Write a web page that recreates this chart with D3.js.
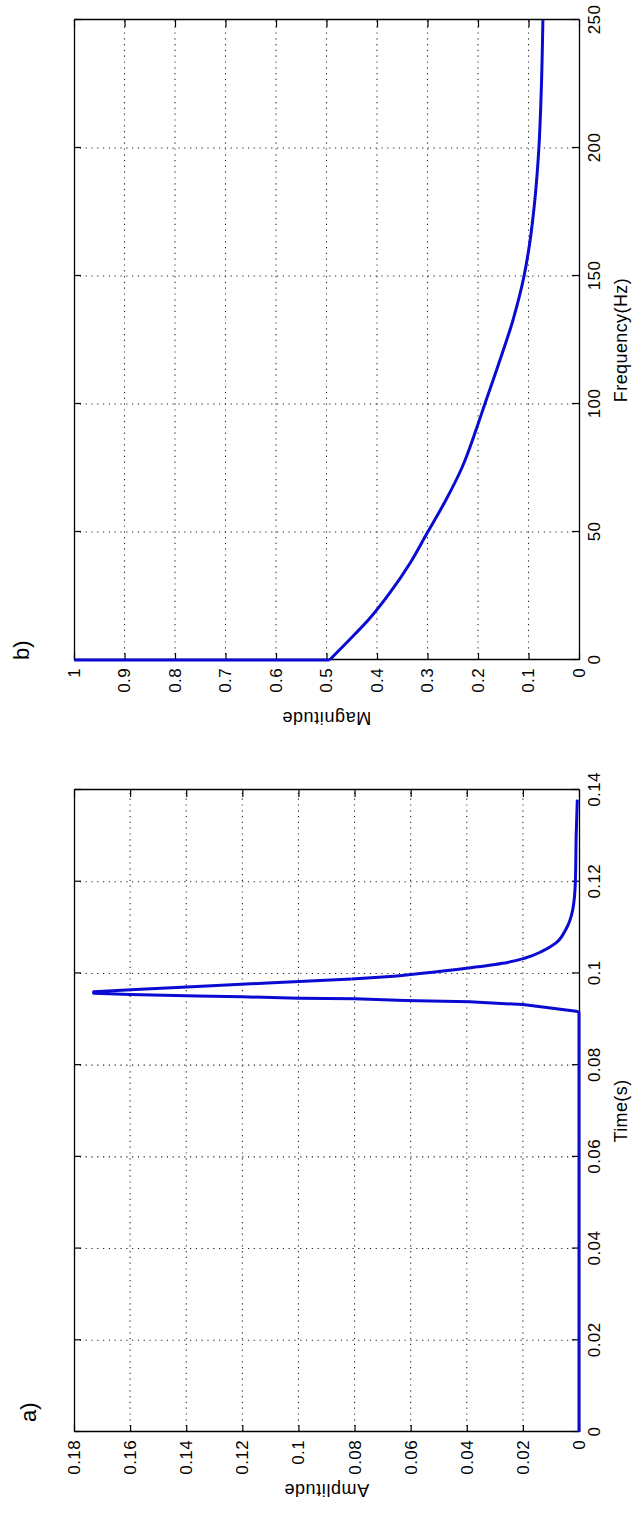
<!DOCTYPE html>
<html>
<head>
<meta charset="utf-8">
<script src="https://cdn.jsdelivr.net/npm/d3@7/dist/d3.min.js"></script>
<style>
  html, body { margin: 0; padding: 0; background: #fff; }
  svg { display: block; }
  text { font-family: "Liberation Sans", Arial, Helvetica, sans-serif; fill: #000; }
</style>
</head>
<body>
<svg id="fig" width="633" height="1515"></svg>
<script>
// ---- panel a) : impulse response in time ----
const timeTicks = [0, 0.02, 0.04, 0.06, 0.08, 0.1, 0.12, 0.14];
const timeTickLabels = ["0", "0.02", "0.04", "0.06", "0.08", "0.1", "0.12", "0.14"];
const amplitudeTicks = [0, 0.02, 0.04, 0.06, 0.08, 0.1, 0.12, 0.14, 0.16, 0.18];
const amplitudeTickLabels = ["0", "0.02", "0.04", "0.06", "0.08", "0.1", "0.12", "0.14", "0.16", "0.18"];
const timeValues = [0, 0.0915, 0.09176, 0.0932, 0.0938, 0.0941, 0.0945, 0.0946, 0.0949, 0.0951, 0.0954, 0.0957,
  0.0960, 0.0965, 0.0971, 0.0979, 0.0988, 0.0994, 0.1004, 0.1013, 0.1024, 0.1033, 0.1048, 0.1066,
  0.1096, 0.1140, 0.1199, 0.1302, 0.1379];
const amplitudeValues = [0, 0, 0.001, 0.020, 0.039, 0.062, 0.080, 0.100, 0.120, 0.136, 0.160, 0.173,
  0.173, 0.158, 0.138, 0.111, 0.081, 0.066, 0.050, 0.038, 0.0255, 0.0194, 0.0132, 0.0083,
  0.0047, 0.0022, 0.0013, 0.0010, 0.0006];

// ---- panel b) : magnitude spectrum ----
const freqTicks = [0, 50, 100, 150, 200, 250];
const freqTickLabels = ["0", "50", "100", "150", "200", "250"];
const magnitudeTicks = [0, 0.1, 0.2, 0.3, 0.4, 0.5, 0.6, 0.7, 0.8, 0.9, 1];
const magnitudeTickLabels = ["0", "0.1", "0.2", "0.3", "0.4", "0.5", "0.6", "0.7", "0.8", "0.9", "1"];
const freqValues = [0, 0, 7.6, 16, 26.2, 38, 49.5, 61.7, 75.2, 90.4, 99.7, 114, 132.6, 149.8, 163,
  181.6, 199.8, 223.8, 250];
const magnitudeValues = [1, 0.494, 0.456, 0.4155, 0.3747, 0.334, 0.301, 0.2657, 0.2316, 0.203, 0.187,
  0.162, 0.131, 0.109, 0.0975, 0.0865, 0.0795, 0.0745, 0.0715];

const W = 1515, H = 633;              // landscape figure, turned a quarter turn on the page
const lineColor = "#0a0ad2";

const svg = d3.select("#fig");
svg.append("rect").attr("width", 633).attr("height", 1515).attr("fill", "#fff");
const fig = svg.append("g").attr("transform", `translate(0,${W}) rotate(-90)`);

function panel(opts) {
  const { x0, x1, y0, y1 } = opts;
  const x = d3.scaleLinear().domain(opts.xDomain).range([x0, x1]);
  const y = d3.scaleLinear().domain(opts.yDomain).range([y1, y0]);
  const g = fig.append("g");

  // dotted grid
  const grid = g.append("g").attr("stroke", "#222").attr("stroke-width", 1.1)
    .attr("stroke-dasharray", "1.2,4.6");
  grid.selectAll("line.gx").data(opts.xTicks.slice(1, -1)).join("line")
    .attr("x1", d => x(d)).attr("x2", d => x(d)).attr("y1", y0).attr("y2", y1);
  grid.selectAll("line.gy").data(opts.yTicks.slice(1, -1)).join("line")
    .attr("y1", d => y(d)).attr("y2", d => y(d)).attr("x1", x0).attr("x2", x1);

  // box with inward ticks on all four sides
  const style = sel => {
    sel.selectAll(".domain").attr("stroke", "#000").attr("stroke-width", 1.3);
    sel.selectAll(".tick line").attr("stroke", "#000").attr("stroke-width", 1.2);
    sel.selectAll("text").attr("font-size", 17).attr("letter-spacing", 0.4)
      .attr("font-family", '"Liberation Sans", Arial, sans-serif').attr("fill", "#000");
  };
  g.append("g").attr("transform", `translate(0,${y1})`)
    .call(d3.axisBottom(x).tickValues(opts.xTicks).tickFormat((d, i) => opts.xLabels[i])
      .tickSizeInner(-7).tickSizeOuter(0).tickPadding(9)).call(style);
  g.append("g").attr("transform", `translate(0,${y0})`)
    .call(d3.axisTop(x).tickValues(opts.xTicks).tickFormat("")
      .tickSizeInner(-7).tickSizeOuter(0)).call(style);
  g.append("g").attr("transform", `translate(${x0},0)`)
    .call(d3.axisLeft(y).tickValues(opts.yTicks).tickFormat((d, i) => opts.yLabels[i])
      .tickSizeInner(-7).tickSizeOuter(0).tickPadding(8)).call(style);
  g.append("g").attr("transform", `translate(${x1},0)`)
    .call(d3.axisRight(y).tickValues(opts.yTicks).tickFormat("")
      .tickSizeInner(-7).tickSizeOuter(0)).call(style);
  g.selectAll(".domain").attr("fill", "none");

  // data trace: straight pieces first, then the smooth part
  const pts = opts.xs.map((v, i) => [v, opts.ys[i]]);
  const split = opts.smoothFrom == null ? pts.length : opts.smoothFrom;
  const straight = d3.line().x(d => x(d[0])).y(d => y(d[1]));
  const smooth = d3.line().curve(d3.curveMonotoneX).x(d => x(d[0])).y(d => y(d[1]));
  g.append("path").datum(pts.slice(0, split + 1))
    .attr("fill", "none").attr("stroke", lineColor).attr("stroke-width", 3)
    .attr("stroke-linejoin", "round").attr("d", straight);
  if (split < pts.length - 1) {
    g.append("path").datum(pts.slice(split))
      .attr("fill", "none").attr("stroke", lineColor).attr("stroke-width", 3)
      .attr("stroke-linejoin", "round").attr("d", smooth);
  }

  // axis titles
  g.append("text").attr("x", (x0 + x1) / 2).attr("y", 627)
    .attr("text-anchor", "middle").attr("font-size", 18).attr("letter-spacing", 0.4)
    .text(opts.xTitle);
  g.append("text")
    .attr("transform", `translate(${x0 - 52},${(y0 + y1) / 2}) rotate(-90)`)
    .attr("text-anchor", "middle").attr("font-size", 18).attr("letter-spacing", 0.6)
    .text(opts.yTitle);

  // panel tag
  g.append("text").attr("x", opts.tagX).attr("y", opts.tagY)
    .attr("font-size", 22).text(opts.tag);
}

panel({
  x0: 83, x1: 725, y0: 74, y1: 579,
  xDomain: [0, 0.14], yDomain: [0, 0.18],
  xTicks: timeTicks, xLabels: timeTickLabels,
  yTicks: amplitudeTicks, yLabels: amplitudeTickLabels,
  xs: timeValues, ys: amplitudeValues,
  smoothFrom: 16,
  xTitle: "Time(s)", yTitle: "Amplitude",
  tag: "a)", tagX: 93, tagY: 36
});

panel({
  x0: 855, x1: 1495, y0: 74, y1: 579,
  xDomain: [0, 250], yDomain: [0, 1],
  xTicks: freqTicks, xLabels: freqTickLabels,
  yTicks: magnitudeTicks, yLabels: magnitudeTickLabels,
  xs: freqValues, ys: magnitudeValues,
  smoothFrom: 1,
  xTitle: "Frequency(Hz)", yTitle: "Magnitude",
  tag: "b)", tagX: 855, tagY: 29
});
</script>
</body>
</html>
